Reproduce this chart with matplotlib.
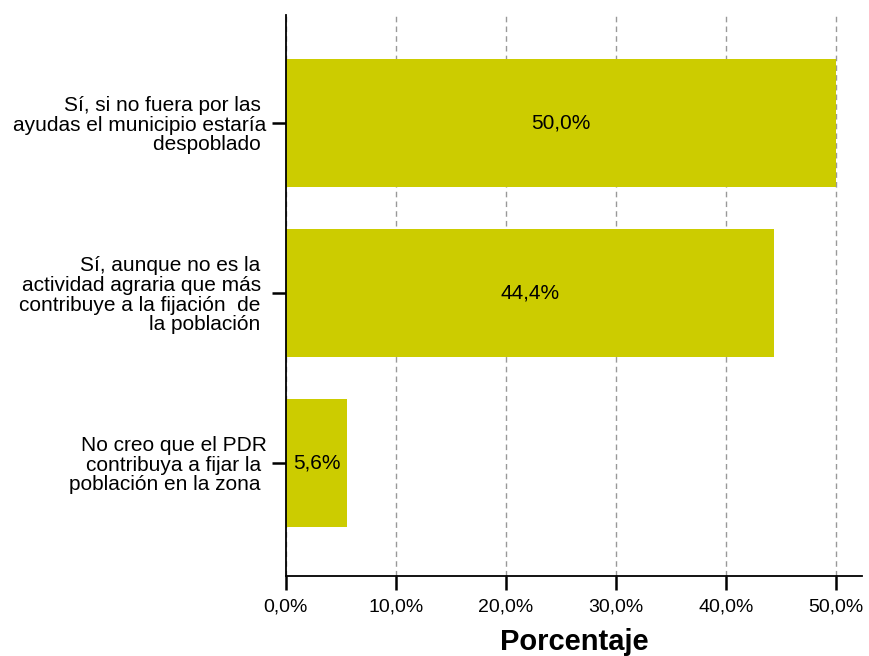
import numpy as np
import matplotlib.pyplot as plt

plt.rcParams['font.family'] = ['Liberation Sans', 'DejaVu Sans']

# Categories from bottom to top
categories = [
    "No creo que el PDR\ncontribuya a fijar la \npoblación en la zona ",
    "Sí, aunque no es la \nactividad agraria que más \ncontribuye a la fijación  de \nla población ",
    "Sí, si no fuera por las \nayudas el municipio estaría\ndespoblado ",
]
values = [5.6, 44.4, 50.0]
value_labels = ["5,6%", "44,4%", "50,0%"]
xticks = [0, 10, 20, 30, 40, 50]
xtick_labels = ["0,0%", "10,0%", "20,0%", "30,0%", "40,0%", "50,0%"]

fig = plt.figure(figsize=(8.69, 6.56), dpi=100)
ax = fig.add_axes([0.329, 0.122, 0.663, 0.855])

ypos = np.arange(len(categories))
ax.barh(ypos, values, height=0.75, color='#CCCC00', zorder=2)

for y, v, lab in zip(ypos, values, value_labels):
    ax.text(v / 2, y, lab, ha='center', va='center', fontsize=15, color='black', zorder=3)

ax.set_xlim(0, 52.4)
ax.set_ylim(-0.665, 2.635)
ax.set_yticks(ypos)
ax.set_yticklabels(categories, fontsize=15, linespacing=1.04)
ax.set_xticks(xticks)
ax.set_xticklabels(xtick_labels, fontsize=14)

ax.grid(axis='x', color='#999999', linestyle=(0, (4, 3)), linewidth=1)
ax.set_axisbelow(True)

for s in ['top', 'right']:
    ax.spines[s].set_visible(False)
for s in ['left', 'bottom']:
    ax.spines[s].set_linewidth(1.3)

ax.tick_params(axis='both', length=10, width=1.8, direction='out')
ax.tick_params(axis='x', pad=6)
ax.tick_params(axis='y', pad=4)
ax.set_xlabel('Porcentaje', fontsize=21, fontweight='bold', labelpad=9)

fig.savefig('out.png', dpi=100)
